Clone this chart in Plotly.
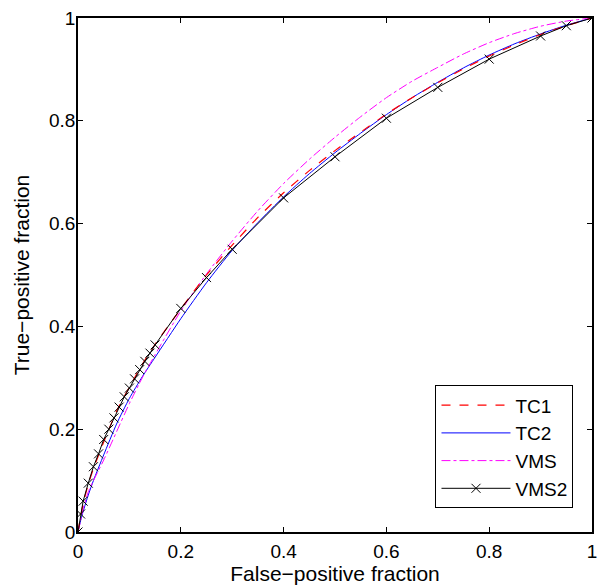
import plotly.graph_objects as go

# ---- data ----
curve_x = [0, 0.005, 0.01, 0.02, 0.03, 0.05, 0.075, 0.1, 0.125, 0.15, 0.2, 0.25, 0.3,
           0.35, 0.4, 0.45, 0.5, 0.55, 0.6, 0.65, 0.7, 0.75, 0.8, 0.85, 0.9, 0.95, 1]
tc1_y = [0, 0.03, 0.055, 0.093, 0.123, 0.175, 0.235, 0.282, 0.326, 0.365, 0.434, 0.5, 0.558,
         0.612, 0.66, 0.703, 0.742, 0.778, 0.813, 0.845, 0.874, 0.901, 0.926, 0.948, 0.968, 0.985, 1]
tc2_y = [0, 0.022, 0.04, 0.072, 0.1, 0.15, 0.21, 0.26, 0.302, 0.34, 0.415, 0.485, 0.548,
         0.602, 0.652, 0.697, 0.738, 0.776, 0.812, 0.845, 0.875, 0.903, 0.928, 0.95, 0.969, 0.986, 1]
vms_y = [0, 0.022, 0.045, 0.078, 0.1, 0.14, 0.195, 0.25, 0.3, 0.345, 0.43, 0.502, 0.566,
         0.625, 0.678, 0.725, 0.768, 0.808, 0.845, 0.877, 0.904, 0.93, 0.952, 0.97, 0.984, 0.994, 1]

vms2_x = [0, 0.005, 0.01, 0.02, 0.03, 0.04, 0.05, 0.06, 0.07, 0.08, 0.09, 0.10, 0.11, 0.12,
          0.13, 0.14, 0.15, 0.2, 0.25, 0.3, 0.4, 0.5, 0.6, 0.7, 0.8, 0.9, 0.95, 1]
vms2_y = [0, 0.035, 0.06, 0.095, 0.127, 0.152, 0.18, 0.2, 0.222, 0.243, 0.263, 0.28, 0.298, 0.316,
          0.332, 0.348, 0.364, 0.435, 0.495, 0.55, 0.65, 0.73, 0.805, 0.865, 0.92, 0.965, 0.985, 1]

tick_vals = [0, 0.2, 0.4, 0.6, 0.8, 1]
tick_text = ["0", "0.2", "0.4", "0.6", "0.8", "1"]

FONT = "Liberation Sans, Arial, Helvetica, sans-serif"

fig = go.Figure()
# draw order: TC2, VMS, TC1, VMS2 (legend order kept via legendrank)
fig.add_trace(go.Scatter(x=curve_x, y=tc2_y, mode="lines", name="TC2", legendrank=2,
                         line=dict(color="#0000ff", width=1, shape="spline", smoothing=0.6)))
fig.add_trace(go.Scatter(x=curve_x, y=vms_y, mode="lines", name="VMS", legendrank=3,
                         line=dict(color="#ff00ff", width=1, dash="dashdot", shape="spline", smoothing=0.6)))
fig.add_trace(go.Scatter(x=curve_x, y=tc1_y, mode="lines", name="TC1", legendrank=1,
                         line=dict(color="#ff0000", width=1.2, dash="dash", shape="spline", smoothing=0.6)))
fig.add_trace(go.Scatter(x=vms2_x, y=vms2_y, mode="lines+markers", name="VMS2", legendrank=4,
                         line=dict(color="black", width=1),
                         marker=dict(symbol="x-thin", size=9, color="black",
                                     line=dict(color="black", width=1))))

axis_common = dict(
    range=[0, 1], tickvals=tick_vals, ticktext=tick_text,
    ticks="inside", ticklen=5, tickwidth=1, tickcolor="black",
    showline=True, linecolor="black", linewidth=1.5, mirror="ticks",
    showgrid=False, zeroline=False,
    tickfont=dict(family=FONT, size=19, color="black"),
)

fig.update_layout(
    width=605, height=586,
    margin=dict(l=78, r=8, t=15, b=54),
    paper_bgcolor="white", plot_bgcolor="white",
    font=dict(family=FONT, size=19, color="black"),
    xaxis=dict(**axis_common, ticklabelstandoff=1,
               title=dict(text="False\u2212positive fraction", standoff=2,
                          font=dict(family=FONT, size=21, color="black"))),
    yaxis=dict(**axis_common, ticklabelstandoff=-3,
               title=dict(text="True\u2212positive fraction", standoff=14,
                          font=dict(family=FONT, size=21, color="black"))),
    legend=dict(x=0.964, xanchor="right", y=0.046, yanchor="bottom",
                bgcolor="white", bordercolor="black", borderwidth=1,
                font=dict(family=FONT, size=19, color="black"),
                traceorder="normal", itemwidth=69, tracegroupgap=0),
    showlegend=True,
)

fig.write_html("out.html")
